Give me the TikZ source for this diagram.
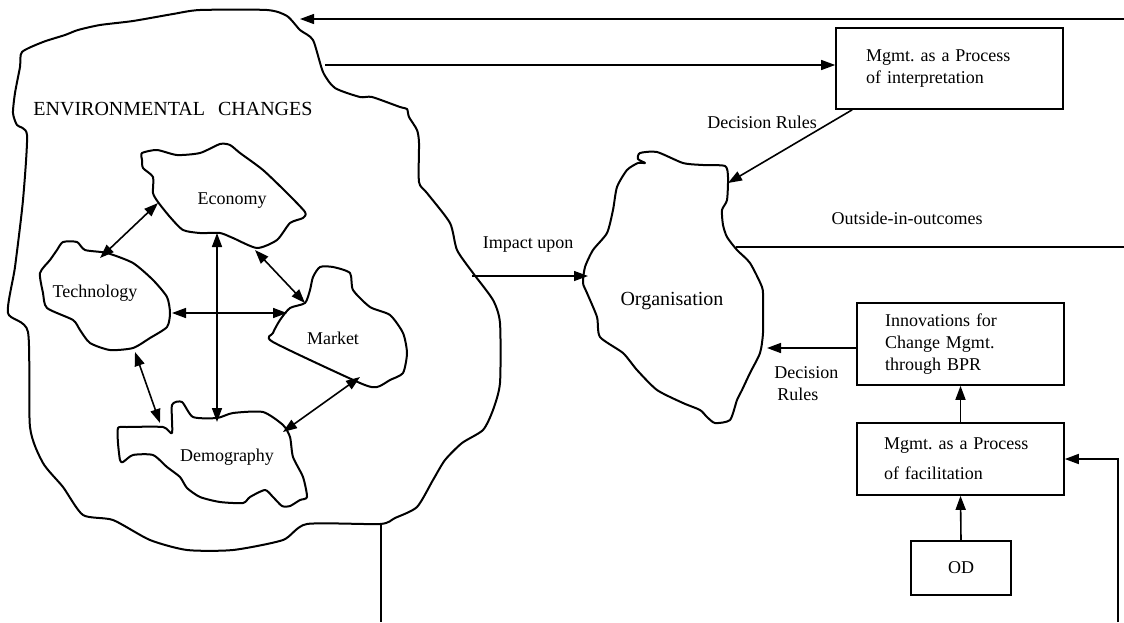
\documentclass[tikz,border=0pt]{standalone}
\usepackage{fontspec}
\setmainfont{Liberation Serif}
\usetikzlibrary{positioning,arrows.meta}

\begin{document}
\begin{tikzpicture}[
    x=0.5pt, y=-0.5pt,
    blob/.style={
        draw,
        line width=1pt,
        line join=round
    },
    box/.style={
        rectangle,
        draw,
        line width=0.8pt,
        align=left,
        font=\fontsize{9}{11}\selectfont
    },
    lbl/.style={
        font=\fontsize{9}{11}\selectfont,
        inner sep=0pt
    },
    arrow/.style={
        -{Triangle[length=7pt,width=5pt]},
        line width=0.8pt
    },
    dblarrow/.style={
        {Triangle[length=7pt,width=5pt]}-{Triangle[length=7pt,width=5pt]},
        line width=0.8pt
    },
    thinline/.style={
        line width=0.65pt
    }
]

\useasboundingbox (0,0) rectangle (1124,622);

\draw[blob] plot[smooth cycle, tension=0.4] coordinates {
    (22,52) (43,42) (65,35) (78,30) (100,25) (133,21) (173,14) (200,10)
    (267,10) (287,16) (300,30) (313,40) (323,72) (335,88) (360,97) (372,97)
    (400,107) (407,109) (409,117) (417,130) (419,143) (419,182) (427,193)
    (450,223) (457,250) (473,273) (493,300) (500,323) (500,383) (493,410)
    (483,430) (462,443) (445,460) (433,480) (417,507) (395,518) (380,524)
    (307,524) (283,540) (233,550) (187,550) (150,540) (113,520) (83,515)
    (63,487) (43,463) (30,427) (28,332) (8,313) (15,267) (23,200) (27,135)
    (17,125) (13,113) (15,93) (20,67)};

\draw[blob] plot[smooth cycle, tension=0.4] coordinates {
    (142,153) (157,150) (177,155) (200,153) (220,144) (230,145) (240,153)
    (263,170) (287,193) (305,212) (303,218) (290,223) (277,240) (257,248)
    (233,238) (220,233) (200,233) (183,230) (170,217) (158,202) (153,193)
    (153,177) (143,168) (142,160)};

\draw[blob] plot[smooth cycle, tension=0.4] coordinates {
    (63,242) (77,242) (85,250) (107,253) (133,263) (153,280) (167,297)
    (170,313) (167,327) (150,338) (133,348) (110,350) (90,343) (80,330)
    (73,320) (47,308) (43,293) (40,273) (50,260) (57,250)};

\draw[blob] plot[smooth cycle, tension=0.4] coordinates {
    (313,277) (320,267) (333,267) (350,273) (353,290) (370,307) (390,315)
    (403,333) (407,353) (403,373) (390,380) (377,387) (360,383) (273,342)
    (273,333) (280,320) (290,308) (305,303) (310,290)};

\draw[blob] plot[smooth cycle, tension=0.4] coordinates {
    (118,428) (127,427) (163,427) (172,433) (172,405) (182,402) (193,417)
    (217,418) (233,413) (263,412) (283,425) (290,437) (293,457) (303,477)
    (307,497) (300,500) (290,506) (282,506) (273,497) (265,490) (250,497)
    (243,503) (220,502) (200,497) (187,488) (180,477) (167,467) (153,455)
    (133,455) (123,462) (120,460) (118,443)};

\draw[blob] plot[smooth cycle, tension=0.4] coordinates {
    (640,153) (657,152) (683,163) (703,165) (725,166) (728,177) (727,200)
    (722,210) (723,225) (727,237) (737,250) (750,263) (762,287) (763,300)
    (763,333) (760,353) (750,373) (742,390) (737,400) (730,420) (715,423)
    (707,417) (700,410) (683,403) (657,390) (637,370) (623,353) (600,337)
    (597,317) (587,293) (583,283) (585,267) (593,250) (607,233) (613,210)
    (617,187) (627,170) (638,163) (645,163) (638,159)};

\node[anchor=west, font=\fontsize{10}{12}\selectfont, inner sep=0pt] (env) at (33,109)
    {ENVIRONMENTAL\hspace{4pt} CHANGES};
\node[lbl] (economy) at (232,201) {Economy};
\node[lbl] (technology) at (95,293) {Technology};
\node[lbl] (market) at (333,338) {Market};
\node[lbl] (demography) at (227,457) {Demography};
\node[font=\fontsize{10}{12}\selectfont, inner sep=0pt] (org) at (672,301) {Organisation};

\node[box, minimum width=113.5pt, minimum height=40.5pt, text width=83.5pt] (interp) at (949.5,68.5)
    {Mgmt.\ as a Process\\of interpretation};
\node[box, minimum width=103.5pt, minimum height=41pt, text width=75.5pt] (innov) at (960.5,344)
    {Innovations for\\Change Mgmt.\\through BPR};
\node[box, minimum width=103.5pt, minimum height=36pt, text width=76.5pt] (facil) at (960.5,459)
    {Mgmt.\ as a Process\\[4pt]of facilitation};
\node[box, minimum width=50pt, minimum height=27pt, align=center] (od) at (961,568) {OD};

\node[lbl] (rules1) at (762,122) {Decision Rules};
\node[lbl] (outside) at (907,218) {Outside-in-outcomes};
\node[lbl] (impact) at (528,245) {Impact upon};
\node[lbl, anchor=west, align=left] (rules2) at (774,384) {Decision\\\,Rules};

\coordinate (topR) at (1124,19);
\coordinate (envTop) at (300,19);
\coordinate (envR) at (325,65);
\coordinate (orgNE) at (728,183);
\coordinate (orgE) at (736,247);
\coordinate (outR) at (1124,247);
\coordinate (envImp) at (472,276);
\coordinate (orgW) at (588,276);
\coordinate (orgR) at (767,348);
\coordinate (envB) at (381,524);
\coordinate (envBot) at (381,622);
\coordinate (loopB) at (1118,622);

\coordinate (ecoL) at (158,203);
\coordinate (techT) at (100,258);
\coordinate (ecoB) at (217,233);
\coordinate (demT) at (217,422);
\coordinate (ecoR) at (255,250);
\coordinate (mktL) at (305,303);
\coordinate (techR) at (172,313);
\coordinate (mktW) at (287,313);
\coordinate (techB) at (135,352);
\coordinate (demL) at (160,423);
\coordinate (mktB) at (360,377);
\coordinate (demR) at (283,432);

\draw[arrow, thinline] (topR) -- (envTop);
\draw[arrow, thinline] (envR) -- (envR -| interp.west);
\draw[arrow] ([xshift=8.5pt]interp.south west) -- (orgNE);
\draw[thinline] (orgE) -- (outR);
\draw[arrow, thinline] (envImp) -- (orgW);
\draw[arrow] ([yshift=-2pt]innov.west) -- (orgR);
\draw[arrow] (facil.north) -- (innov.south);
\draw[arrow] (od.north) -- (facil.south);
\draw[arrow] (loopB) |- (facil.east);
\draw[thinline] (envB) -- (envBot);

\draw[dblarrow] (ecoL) -- (techT);
\draw[dblarrow] (ecoB) -- (demT);
\draw[dblarrow] (ecoR) -- (mktL);
\draw[dblarrow] (techR) -- (mktW);
\draw[dblarrow] (techB) -- (demL);
\draw[dblarrow] (mktB) -- (demR);

\end{tikzpicture}
\end{document}
